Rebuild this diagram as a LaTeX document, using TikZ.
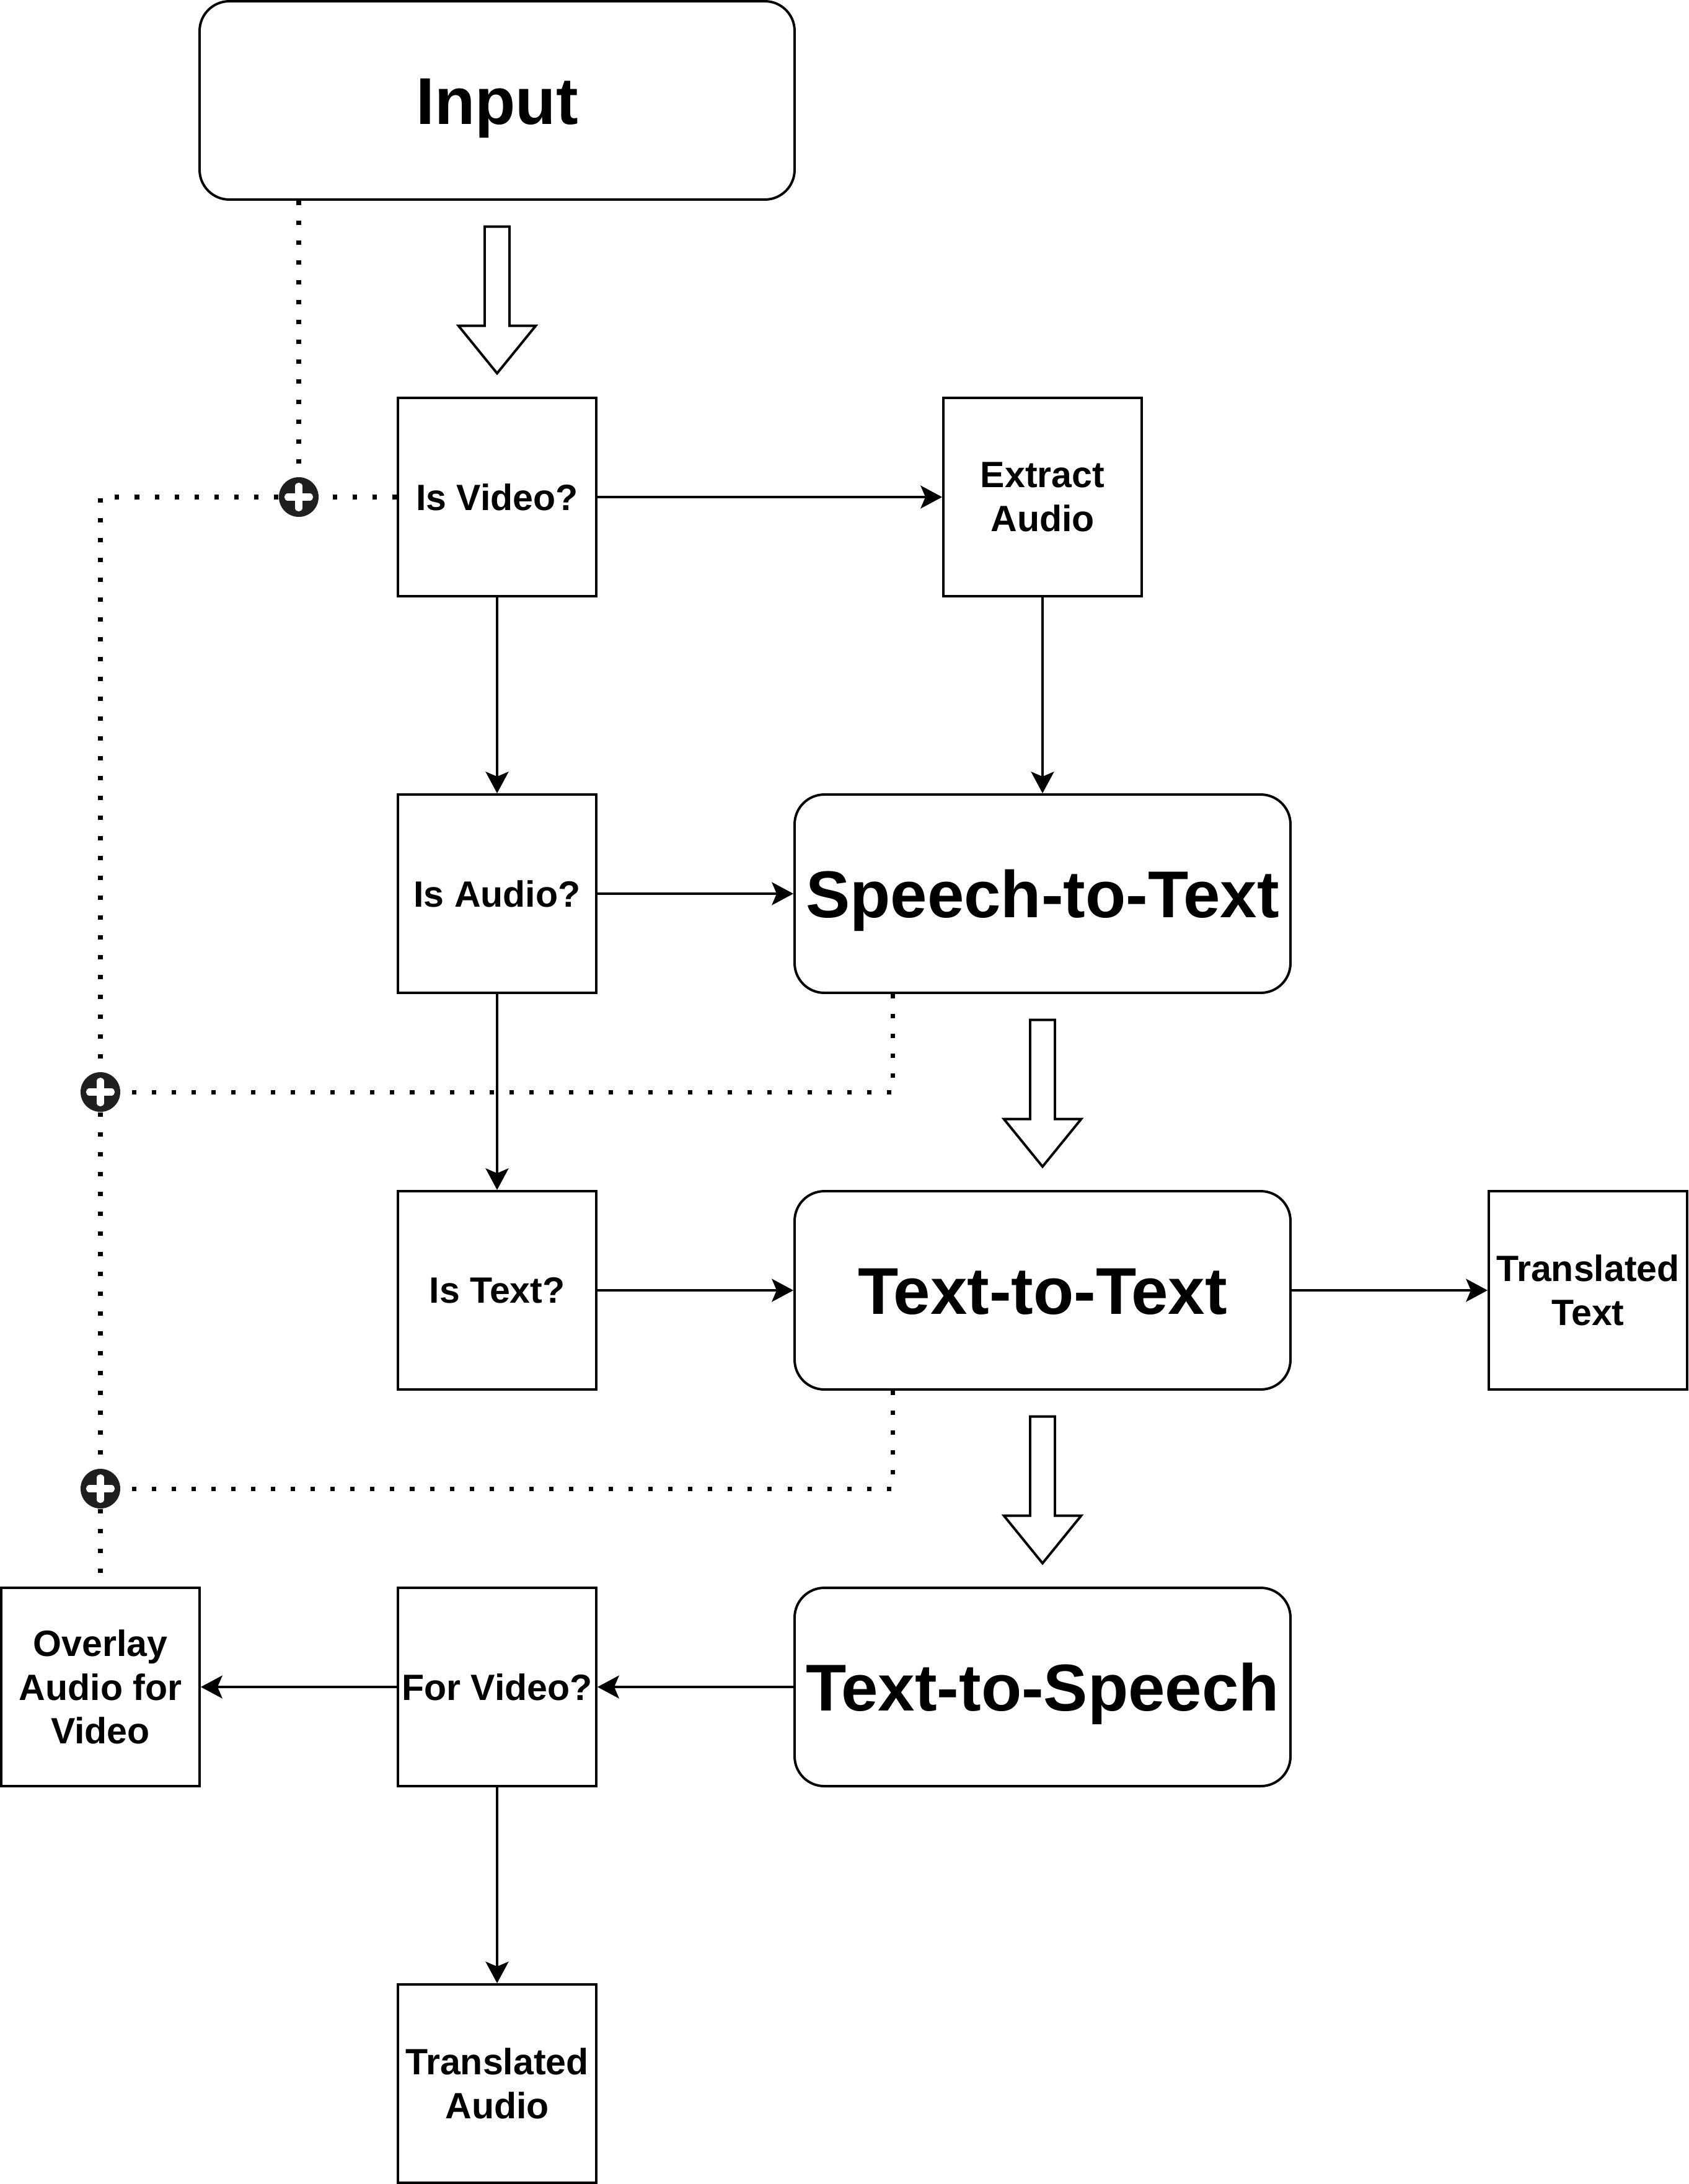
\documentclass[tikz,border=0pt]{standalone}
\usepackage{fontspec}
\setmainfont{Liberation Sans}
\usetikzlibrary{arrows.meta}

\begin{document}
\begin{tikzpicture}[
  font=\bfseries,
  sbox/.style={draw, line width=0.7pt, rectangle, minimum width=2cm,
               minimum height=2cm, inner sep=0pt, align=center,
               font=\fontsize{10.5}{12.6}\selectfont\bfseries},
  bbox/.style={draw, line width=0.7pt, rectangle, rounded corners=0.3cm,
               minimum width=5cm, minimum height=2cm, inner sep=0pt,
               text height=0.48cm, text depth=0pt,
               font=\fontsize{19}{23}\selectfont\bfseries},
  arr/.style={-{Stealth[length=6.2pt,width=6.6pt,inset=1.4pt]}, line width=0.6pt},
  blk/.style={draw, line width=0.7pt, line join=miter, fill=white},
  dotline/.style={line width=1.25pt, dash pattern=on 1.25pt off 4.45pt},
  junction/.style={circle, fill=black!88, minimum size=0.4cm, inner sep=0pt,
    path picture={
      \draw[white, line width=0.07cm, line cap=round]
        ([xshift=-0.11cm]path picture bounding box.center) --
        ([xshift=0.11cm]path picture bounding box.center)
        ([yshift=-0.11cm]path picture bounding box.center) --
        ([yshift=0.11cm]path picture bounding box.center);}},
]
  \useasboundingbox (-0.0125,0.0125) rectangle (17.0125,-22.0125);

  \def\xA{1}     % overlay column
  \def\xB{5}     % checks
  \def\xC{10.5}  % models
  \def\xD{16}    % text output

  % --- Boxes ---
  \node[bbox, minimum width=6cm] at (\xB,-1) (input) {Input};
  \node[sbox] at (\xB,-5)  (isvid)   {Is Video?};
  \node[sbox] at (\xC,-5)  (extract) {Extract\\Audio};
  \node[sbox] at (\xB,-9)  (isaud)   {Is Audio?};
  \node[bbox] at (\xC,-9)  (stt)     {Speech-to-Text};
  \node[sbox] at (\xB,-13) (istxt)   {Is Text?};
  \node[bbox] at (\xC,-13) (ttt)     {Text-to-Text};
  \node[sbox] at (\xD,-13) (trtext)  {Translated\\Text};
  \node[sbox] at (\xA,-17) (overlay) {Overlay\\Audio for\\Video};
  \node[sbox] at (\xB,-17) (forvid)  {For Video?};
  \node[bbox] at (\xC,-17) (tts)     {Text-to-Speech};
  \node[sbox] at (\xB,-21) (traud)   {Translated\\Audio};

  % --- Junctions ---
  \node[junction] at (3,-5)     (j1) {};
  \node[junction] at (\xA,-11) (j2) {};
  \node[junction] at (\xA,-15) (j3) {};

  % --- Block arrows ---
  \foreach \a in {input, stt, ttt}
    \draw[blk] ([yshift=-0.26cm]\a.south) ++(-0.125,0) -- ++(0.25,0)
      -- ++(0,-1) -- ++(0.265,0) -- ++(-0.39,-0.48) -- ++(-0.39,0.48)
      -- ++(0.265,0) -- cycle;

  % --- Flow ---
  \draw[arr] (isvid) -- (extract);
  \draw[arr] (extract) -- (stt);
  \draw[arr] (isvid) -- (isaud);
  \draw[arr] (isaud) -- (stt);
  \draw[arr] (isaud) -- (istxt);
  \draw[arr] (istxt) -- (ttt);
  \draw[arr] (ttt) -- (trtext);
  \draw[arr] (tts) -- (forvid);
  \draw[arr] (forvid) -- (overlay);
  \draw[arr] (forvid) -- (traud);

  % --- Dotted feedback lines ---
  \draw[dotline] (j1 |- input.south) -- (j1);
  \draw[dotline] (isvid.west) -- (j1);
  \draw[dotline] (j1) -| (j2);
  \draw[dotline] ([xshift=1cm]stt.south west) |- (j2);
  \draw[dotline] (j2) -- (j3);
  \draw[dotline] ([xshift=1cm]ttt.south west) |- (j3);
  \draw[dotline] (j3) -- (overlay.north);

\end{tikzpicture}
\end{document}
